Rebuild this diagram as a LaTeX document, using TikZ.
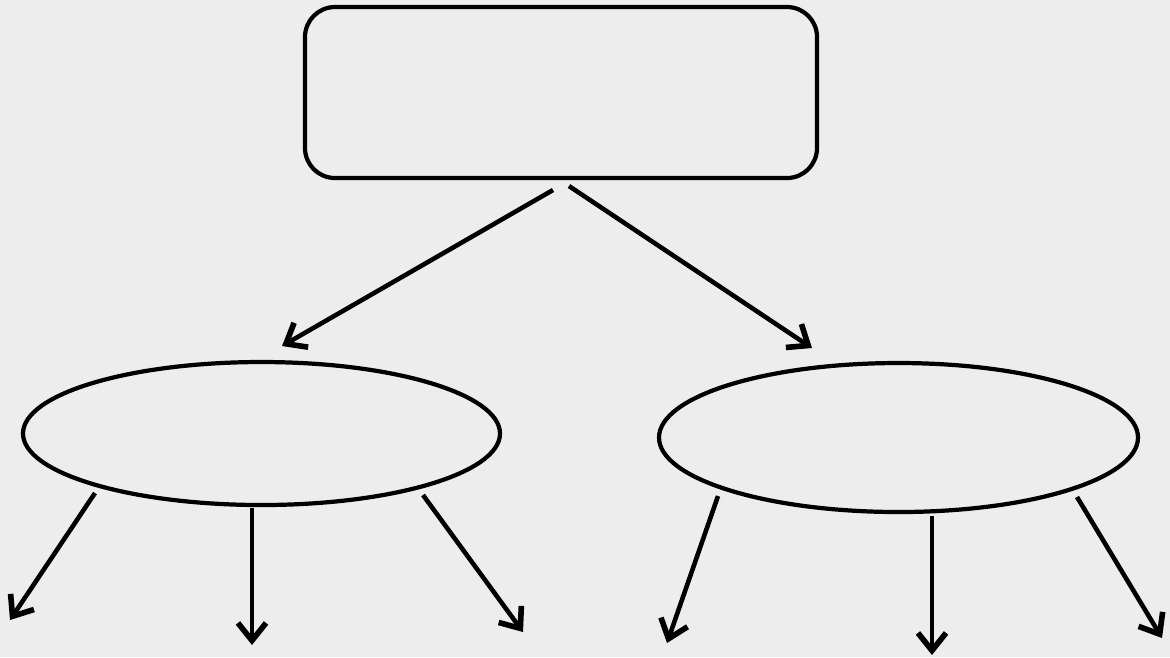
\documentclass[tikz,border=0pt]{standalone}
\usepackage{tikz}
\usetikzlibrary{calc, arrows.meta, positioning, shapes}

\begin{document}
\begin{tikzpicture}[auto, >=latex, node distance = 1 cm]
		\tikzstyle{box} = [draw=black, line width=1.2pt, rounded corners=0.3cm, minimum width=5.12cm, minimum height=1.71cm, inner sep=0pt]
		\tikzstyle{oval} = [draw=black, line width=1.2pt, ellipse, inner sep=0pt]
		\tikzstyle{arrow} = [line width=1.3pt, -{Straight Barb[length=5pt, width=8pt, line width=1.6pt]}]
		
		% page
		\fill[black!7] (0, 0) rectangle (11.70, -6.57);
		\useasboundingbox (0, 0) rectangle (11.70, -6.57);
		
		\node[box] 	at (5.61, -0.925) 		(top) 	{};
		\node[oval, minimum width=4.77cm, minimum height=1.43cm] 	at (2.615, -4.335)		(left) 	{};
		\node[oval, minimum width=4.79cm, minimum height=1.49cm] 	at (8.985, -4.375)		(right) 	{};
		
		% ends of the arrows
		\coordinate (t1) at (5.53, -1.90);
		\coordinate (t2) at (5.69, -1.86);
		\coordinate (l0) at (0.95, -4.93);
		\coordinate (l1) at (2.52, -5.08);
		\coordinate (l2) at (4.23, -4.95);
		\coordinate (r0) at (7.18, -4.96);
		\coordinate (r1) at (9.32, -5.16);
		\coordinate (r2) at (10.77, -4.97);
		\coordinate (la) at (0.10, -6.20);
		\coordinate (lb) at (2.52, -6.45);
		\coordinate (lc) at (5.23, -6.32);
		\coordinate (ra) at (6.67, -6.43);
		\coordinate (rb) at (9.32, -6.55);
		\coordinate (rc) at (11.62, -6.38);
		\coordinate (left top) at (2.82, -3.46);
		\coordinate (right top) at (8.12, -3.48);
		
		\draw[arrow] (t1) -- (left top);
		\draw[arrow] (t2) -- (right top);
		\draw[arrow] (l0) -- (la);
		\draw[arrow] (l1) -- (lb);
		\draw[arrow] (l2) -- (lc);
		\draw[arrow] (r0) -- (ra);
		\draw[arrow] (r1) -- (rb);
		\draw[arrow] (r2) -- (rc);
	\end{tikzpicture}
\end{document}
